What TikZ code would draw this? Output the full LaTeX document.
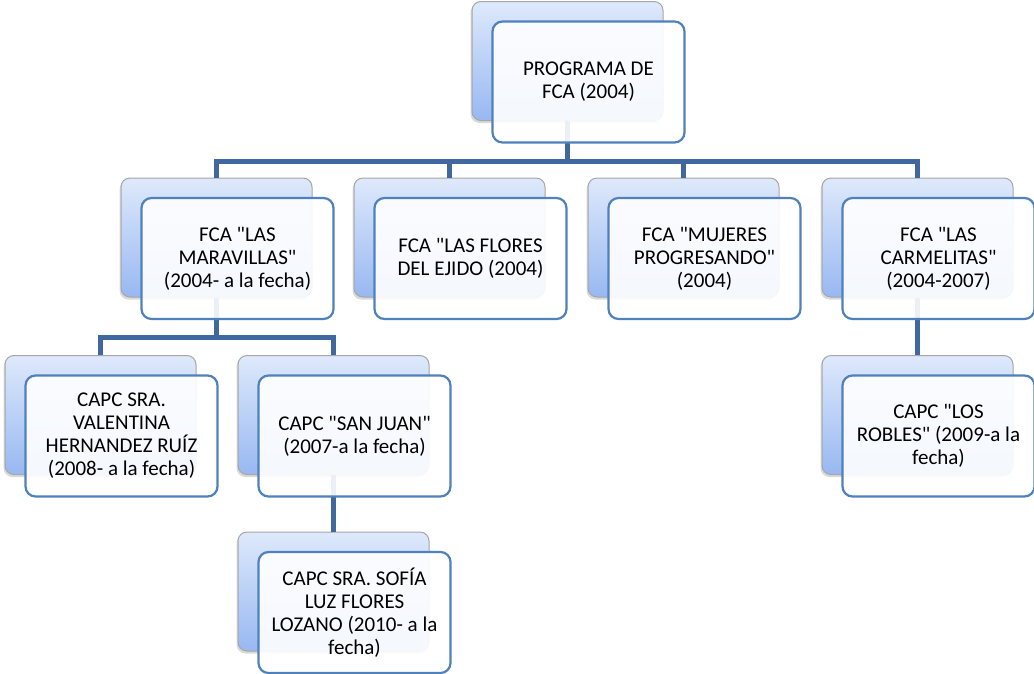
\documentclass[tikz,border=0pt]{standalone}
\usepackage{fontspec}
\setmainfont{Carlito}
\usetikzlibrary{shadows,calc}
\definecolor{frameblue}{RGB}{79,129,189}
\definecolor{linkblue}{RGB}{64,104,158}
\definecolor{backtop}{RGB}{222,233,251}
\definecolor{backbot}{RGB}{152,184,242}
\newcommand\dq{\textquotedbl}

\begin{document}
\begin{tikzpicture}[x=1pt, y=-1pt,
  back/.style={draw=gray!70, line width=1pt, rounded corners=9pt,
    top color=backtop, bottom color=backbot,
    minimum width=191pt, minimum height=119pt,
    drop shadow={shadow xshift=-1.5pt, shadow yshift=-2.5pt, opacity=0.3}},
  front/.style={draw=frameblue, line width=2.2pt, rounded corners=10pt,
    fill=white, fill opacity=0.9, text opacity=1,
    minimum width=192pt, minimum height=121pt, align=center,
    font=\fontsize{21}{23}\selectfont},
  link/.style={draw=linkblue, line width=5pt}]

  \useasboundingbox (0,0) rectangle (1034,673);

  \newcommand\SX{21}
  \newcommand\SY{21}

  % shadow boxes
  \node[back] (progB)    at (567.5,  61)   {};
  \node[back] (maravB)   at (216.5, 237.5) {};
  \node[back] (floresB)  at (449.5, 237.5) {};
  \node[back] (mujerB)   at (683.5, 237.5) {};
  \node[back] (carmB)    at (917.5, 237.5) {};
  \node[back] (valentB)  at (100.5, 415)   {};
  \node[back] (sanjuanB) at (333.5, 415)   {};
  \node[back] (roblesB)  at (917.5, 415)   {};
  \node[back] (sofiaB)   at (333.5, 591.5) {};

  % connectors
  \draw[link] (progB.south) -- ++(0,40) -| (maravB.north);
  \draw[link] (progB.south) -- ++(0,40) -| (floresB.north);
  \draw[link] (progB.south) -- ++(0,40) -| (mujerB.north);
  \draw[link] (progB.south) -- ++(0,40) -| (carmB.north);

  \draw[link] (maravB.south) -- ++(0,40) -| (valentB.north);
  \draw[link] (maravB.south) -- ++(0,40) -| (sanjuanB.north);
  \draw[link] (sanjuanB.south) -- (sofiaB.north);
  \draw[link] (carmB.south) -- (roblesB.north);

  % front boxes
  \node[front] (prog)    at ($(progB)+(\SX,\SY)$)    {PROGRAMA DE\\FCA (2004)};
  \node[front] (marav)   at ($(maravB)+(\SX,\SY)$)   {FCA \dq LAS\\MARAVILLAS\dq\\(2004- a la fecha)};
  \node[front] (flores)  at ($(floresB)+(\SX,\SY)$)  {FCA \dq LAS FLORES\\DEL EJIDO (2004)};
  \node[front] (mujer)   at ($(mujerB)+(\SX,\SY)$)   {FCA \dq MUJERES\\PROGRESANDO\dq\\(2004)};
  \node[front] (carm)    at ($(carmB)+(\SX,\SY)$)    {FCA \dq LAS\\CARMELITAS\dq\\(2004-2007)};
  \node[front] (valent)  at ($(valentB)+(\SX,\SY)$)  {CAPC SRA.\\VALENTINA\\HERNANDEZ RUÍZ\\(2008- a la fecha)};
  \node[front] (sanjuan) at ($(sanjuanB)+(\SX,\SY)$) {CAPC \dq SAN JUAN\dq\\(2007-a la fecha)};
  \node[front] (robles)  at ($(roblesB)+(\SX,\SY)$)  {CAPC \dq LOS\\ROBLES\dq\ (2009-a la\\fecha)};
  \node[front] (sofia)   at ($(sofiaB)+(\SX,\SY)$)   {CAPC SRA. SOFÍA\\LUZ FLORES\\LOZANO (2010- a la\\fecha)};

\end{tikzpicture}
\end{document}
